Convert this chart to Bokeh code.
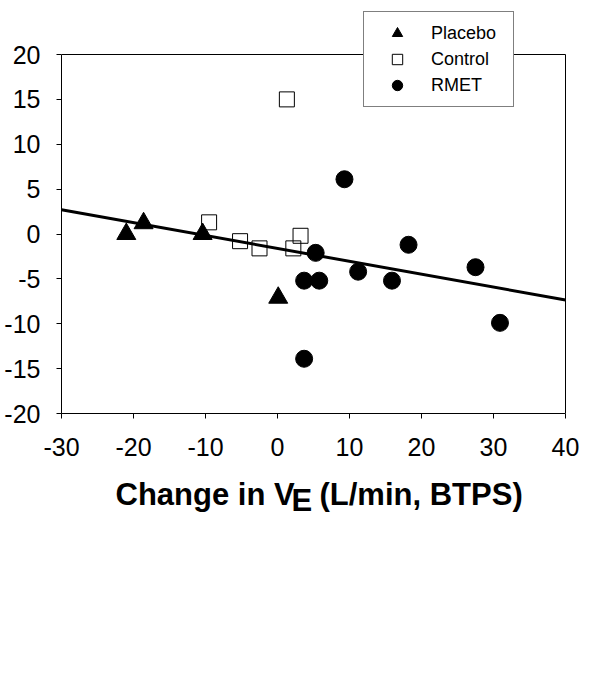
from bokeh.plotting import figure
from bokeh.models import Range1d, FixedTicker, Legend, LegendItem, Label
from bokeh.layouts import column
from bokeh.core.properties import value
from bokeh.embed import file_html
from bokeh.resources import INLINE

# ---- data ----
placebo_x = [-21.0, -18.6, -10.4, 0.1]
placebo_y = [0.0, 1.2, 0.0, -7.1]

control_x = [-9.5, -5.2, -2.5, 1.3, 2.2, 3.2]
control_y = [1.3, -0.8, -1.6, 15.0, -1.6, -0.2]

rmet_x = [3.7, 3.7, 5.3, 5.8, 9.3, 11.2, 15.9, 18.2, 27.5, 30.9]
rmet_y = [-13.9, -5.2, -2.1, -5.2, 6.1, -4.2, -5.2, -1.2, -3.7, -9.9]

fit_x = [-30, 40]
fit_y = [2.7, -7.35]

x_ticks = [-30, -20, -10, 0, 10, 20, 30, 40]
y_ticks = [-20, -15, -10, -5, 0, 5, 10, 15, 20]

series_names = ["Placebo", "Control", "RMET"]

FONT = "Liberation Sans"

# ---- layout geometry (page pixels) ----
X0, X1, Y0, Y1 = -30, 40, -20, 20          # axis extents
AX_L, AX_R, AX_T, AX_B = 61, 565, 54, 413  # where the axis box sits
PX_X = (AX_R - AX_L) / (X1 - X0)           # px per x unit
PX_Y = (AX_B - AX_T) / (Y1 - Y0)           # px per y unit
EXTRA_R = 2
RIGHT = 20
BOTTOM = 60
FW = AX_R - AX_L + EXTRA_R

p = figure(
    output_backend="svg",
    toolbar_location=None,
    frame_width=FW,
    frame_height=AX_B,
    min_border_left=AX_L,
    min_border_right=RIGHT,
    min_border_top=0,
    min_border_bottom=BOTTOM,
    x_range=Range1d(X0, X1 + EXTRA_R / PX_X),
    y_range=Range1d(Y0, Y1 + AX_T / PX_Y),
    background_fill_color="white",
    border_fill_color="white",
)
p.grid.visible = False
p.outline_line_color = None

for ax in (p.xaxis[0], p.yaxis[0]):
    ax.axis_line_color = "black"
    ax.axis_line_width = 1
    ax.major_tick_line_color = "black"
    ax.minor_tick_line_color = None
    ax.major_tick_in = 0
    ax.major_tick_out = 5
    ax.major_label_text_font = FONT
    ax.major_label_text_font_size = "25px"
    ax.major_label_text_color = "black"

p.xaxis.ticker = FixedTicker(ticks=x_ticks)
p.yaxis.ticker = FixedTicker(ticks=y_ticks)
p.xaxis.major_label_overrides = {t: str(t) for t in x_ticks}
p.yaxis.major_label_overrides = {t: str(t) for t in y_ticks}
p.xaxis.bounds = (X0, X1)
p.yaxis.bounds = (Y0, Y1)
p.xaxis.major_label_standoff = 19
p.yaxis.major_label_standoff = 16

# top and right sides of the axis box
p.segment(x0=[X0, X1], y0=[Y1, Y0], x1=[X1, X1], y1=[Y1, Y1],
          line_color="black", line_width=1)

r_pl = p.scatter(placebo_x, placebo_y, marker="triangle", size=19,
                 fill_color="black", line_color="black")
r_co = p.scatter(control_x, control_y, marker="square", size=15,
                 fill_color=None, line_color="black", line_width=1)
r_rm = p.scatter(rmet_x, rmet_y, marker="circle", size=17,
                 fill_color="black", line_color="black")
p.line(fit_x, fit_y, line_width=3, line_color="black")

legend = Legend(
    items=[
        LegendItem(label=value(series_names[0]), renderers=[r_pl]),
        LegendItem(label=value(series_names[1]), renderers=[r_co]),
        LegendItem(label=value(series_names[2]), renderers=[r_rm]),
    ],
    location=(363 - AX_L, AX_B - 107),
    padding=8,
    margin=0,
    spacing=0,
    glyph_width=50,
    glyph_height=26,
    label_height=26,
    label_width=74,
    label_standoff=9,
    label_text_font=FONT,
    label_text_font_size="18px",
    label_text_color="black",
    border_line_color="black",
    border_line_width=1,
    background_fill_color="white",
    background_fill_alpha=1.0,
)
p.add_layout(legend, "center")

# ---- x-axis title strip: same horizontal frame as the plot,
#      data coordinates equal page pixels (y downward) ----
TOP2 = AX_B + BOTTOM
H2 = 60
t = figure(
    output_backend="svg",
    toolbar_location=None,
    frame_width=FW,
    frame_height=H2,
    min_border_left=AX_L,
    min_border_right=RIGHT,
    min_border_top=0,
    min_border_bottom=0,
    x_range=Range1d(AX_L, AX_L + FW),
    y_range=Range1d(TOP2 + H2, TOP2),
    x_axis_type=None,
    y_axis_type=None,
    background_fill_color="white",
    border_fill_color="white",
)
t.outline_line_color = None
t.grid.visible = False

BASE = 494  # title baseline (page px, calibrated)
title_common = dict(text_font=FONT, text_font_size="31px",
                    text_font_style="bold", text_color="black",
                    text_align="left", text_baseline="alphabetic")
t.add_layout(Label(x=115, y=BASE, text="Change in V", **title_common))
t.add_layout(Label(x=291, y=BASE + 6, text="E", **title_common))
t.add_layout(Label(x=319, y=BASE, text="(L/min, BTPS)", **title_common))

layout = column(p, t, spacing=0)
open("out.html", "w").write(file_html(layout, INLINE))
